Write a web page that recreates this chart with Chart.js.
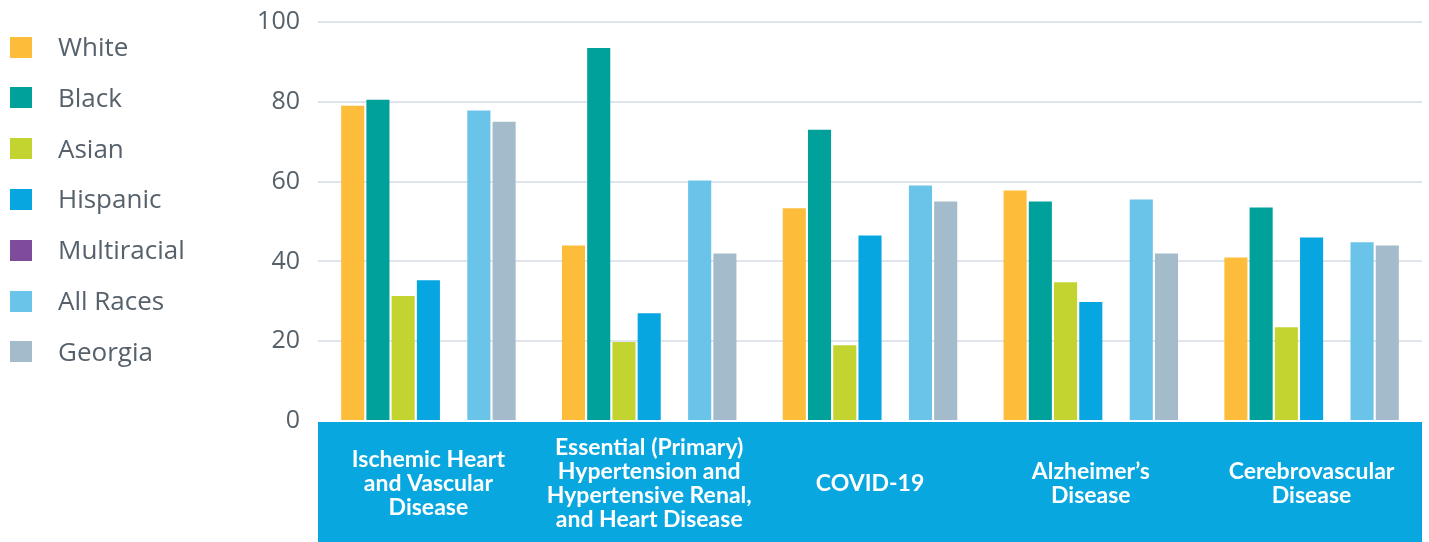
<!DOCTYPE html>
<html>
<head>
<meta charset="utf-8">
<script src="https://cdn.jsdelivr.net/npm/chart.js@4.4.1/dist/chart.umd.min.js"></script>
<style>
  html, body { margin: 0; padding: 0; background: #ffffff; }
  #wrap { width: 1429px; height: 542px; position: relative; }
</style>
</head>
<body>
<div id="wrap"><canvas id="chart"></canvas></div>
<script>
// Leading causes of death: rate by race / ethnicity
const categories = [
  ['Ischemic Heart', 'and Vascular', 'Disease'],
  ['Essential (Primary)', 'Hypertension and', 'Hypertensive Renal,', 'and Heart Disease'],
  'COVID-19',
  ['Alzheimer\u2019s', 'Disease'],
  ['Cerebrovascular', 'Disease']
];

const white       = [79.0, 44.0, 53.3, 57.8, 41.0];
const black       = [80.5, 93.5, 73.0, 55.0, 53.5];
const asian       = [31.3, 19.8, 19.0, 34.8, 23.5];
const hispanic    = [35.3, 27.0, 46.5, 29.8, 46.0];
const multiracial = [null, null, null, null, null];
const allRaces    = [77.8, 60.3, 59.0, 55.5, 44.8];
const georgia     = [75.0, 42.0, 55.0, 42.0, 44.0];

const yTicks = [0, 20, 40, 60, 80, 100];

const seriesNames  = ['White', 'Black', 'Asian', 'Hispanic', 'Multiracial', 'All Races', 'Georgia'];
const seriesValues = [white, black, asian, hispanic, multiracial, allRaces, georgia];
const seriesColors = ['#fdbd3b', '#00a19a', '#c3d431', '#07a6e0', '#7f4b9b', '#6ac3e9', '#a4bbcb'];

const BAND_COLOR = '#08a7e0';
const TEXT_GRAY = '#56616b';

// Blue strip behind the category labels
const categoryBand = {
  id: 'categoryBand',
  beforeDraw(chart) {
    const { ctx, chartArea } = chart;
    ctx.save();
    ctx.fillStyle = BAND_COLOR;
    ctx.fillRect(chartArea.left, chartArea.bottom + 1, chartArea.right - chartArea.left, chart.height - chartArea.bottom - 1);
    ctx.restore();
  }
};

// Square-swatch legend stacked down the left edge
const sideLegend = {
  id: 'sideLegend',
  afterDraw(chart) {
    const { ctx } = chart;
    ctx.save();
    ctx.font = '26px "Open Sans"';
    ctx.textBaseline = 'middle';
    ctx.textAlign = 'left';
    chart.data.datasets.forEach((ds, i) => {
      const cy = 47.5 + i * 50.8;
      ctx.fillStyle = ds.backgroundColor;
      ctx.fillRect(10, Math.round(cy - 11), 22, 21);
      ctx.fillStyle = TEXT_GRAY;
      ctx.fillText(ds.label, 58, cy + 1);
    });
    ctx.restore();
  }
};

const datasets = seriesNames.map((name, i) => ({
  label: name,
  data: seriesValues[i],
  backgroundColor: seriesColors[i],
  borderWidth: 0,
  categoryPercentage: 0.8,
  barPercentage: 0.915
}));

new Chart(document.getElementById('chart'), {
  type: 'bar',
  data: { labels: categories, datasets },
  plugins: [categoryBand, sideLegend],
  options: {
    responsive: true,
    maintainAspectRatio: false,
    animation: false,
    layout: { padding: { left: 218, top: 22, right: 7, bottom: 0 } },
    plugins: {
      legend: { display: false },
      tooltip: { enabled: false }
    },
    scales: {
      x: {
        grid: { display: false, drawTicks: false },
        border: { display: false },
        ticks: {
          color: '#ffffff',
          font: { family: 'Lato', size: 23, weight: 'bold', lineHeight: 24 / 23 },
          padding: 27,
          crossAlign: 'center',
          maxRotation: 0,
          autoSkip: false
        },
        afterFit(scale) { scale.height = 121; }
      },
      y: {
        min: 0,
        max: 100,
        afterBuildTicks(scale) { scale.ticks = yTicks.map(v => ({ value: v })); },
        grid: {
          color: ctx => (ctx.tick && ctx.tick.value === 0) ? 'rgba(0,0,0,0)' : '#e0e4ec',
          lineWidth: 2,
          drawTicks: false
        },
        border: { display: false },
        ticks: {
          color: TEXT_GRAY,
          font: { family: 'Open Sans', size: 25 },
          padding: 18
        },
        afterFit(scale) {
          scale.width = 100;
          scale.paddingTop = 0;
          scale.paddingBottom = 0;
        }
      }
    }
  }
});
</script>
</body>
</html>
